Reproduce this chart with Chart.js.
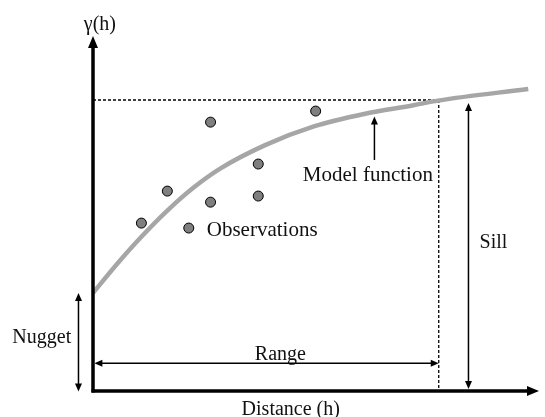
<!DOCTYPE html>
<html>
<head>
<meta charset="utf-8">
<script src="https://cdn.jsdelivr.net/npm/chart.js@4/dist/chart.umd.min.js"></script>
<style>
    html, body { margin: 0; padding: 0; background: #fff; }
    #wrap { width: 545px; height: 417px; }
</style>
</head>
<body>
<div id="wrap"><canvas id="variogramChart"></canvas></div>
<script>
// distance h (range = 100) and semivariance gamma (sill = 1)
var modelH = [0, 7.2, 14, 21.5, 29.2, 36.9, 49.8, 64.1, 78.4, 92.7, 99.8, 125.9];
var modelGamma = [0.337, 0.44, 0.53, 0.62, 0.7, 0.765, 0.845, 0.91, 0.952, 0.982, 0.998, 1.038];

var obsH = [14, 21.5, 27.7, 34, 34, 47.8, 47.8, 64.4];
var obsGamma = [0.577, 0.687, 0.56, 0.649, 0.924, 0.67, 0.78, 0.962];

var nugget = 0.337;
var sill = 1.0;
var range = 100;
var hMax = 129;
var gammaMax = 1.22;

var labelFont = '20px "Liberation Serif", "Times New Roman", serif';
var noteFont = '21px "Liberation Serif", "Times New Roman", serif';

function toPoints(xs, ys) {
    return xs.map(function (x, i) { return { x: x, y: ys[i] }; });
}

function arrowHead(ctx, x, y, dir, len, half) {
    // dir: where the tip points
    ctx.beginPath();
    ctx.moveTo(x, y);
    if (dir === 'up') { ctx.lineTo(x - half, y + len); ctx.lineTo(x + half, y + len); }
    if (dir === 'down') { ctx.lineTo(x - half, y - len); ctx.lineTo(x + half, y - len); }
    if (dir === 'left') { ctx.lineTo(x + len, y - half); ctx.lineTo(x + len, y + half); }
    if (dir === 'right') { ctx.lineTo(x - len, y - half); ctx.lineTo(x - len, y + half); }
    ctx.closePath();
    ctx.fill();
}

function line(ctx, x1, y1, x2, y2) {
    ctx.beginPath();
    ctx.moveTo(x1, y1);
    ctx.lineTo(x2, y2);
    ctx.stroke();
}

var guides = {
    id: 'guides',
    beforeDatasetsDraw: function (chart) {
        var ctx = chart.ctx, x = chart.scales.x, y = chart.scales.y;
        ctx.save();
        ctx.strokeStyle = '#000';
        ctx.lineWidth = 1.3;
        ctx.setLineDash([3, 2]);
        line(ctx, x.getPixelForValue(0), y.getPixelForValue(sill), x.getPixelForValue(range), y.getPixelForValue(sill));
        line(ctx, x.getPixelForValue(range), y.getPixelForValue(sill), x.getPixelForValue(range), y.getPixelForValue(0));
        ctx.restore();
    },
    afterDraw: function (chart) {
        var ctx = chart.ctx, x = chart.scales.x, y = chart.scales.y;
        var area = chart.chartArea;
        ctx.save();
        ctx.fillStyle = '#000';
        ctx.strokeStyle = '#000';

        // axes
        var x0 = x.getPixelForValue(0), y0 = y.getPixelForValue(0);
        ctx.lineWidth = 3.5;
        line(ctx, x0, y0 + 1.5, x0, area.top + 10);
        line(ctx, x0 - 1.5, y0, area.right - 10, y0);
        arrowHead(ctx, x0, area.top, 'up', 12, 5);
        arrowHead(ctx, area.right, y0, 'right', 12, 5);

        ctx.lineWidth = 1.5;
        // model function pointer
        var mx = x.getPixelForValue(81.4);
        line(ctx, mx, y.getPixelForValue(0.794), mx, y.getPixelForValue(0.943) + 6);
        arrowHead(ctx, mx, y.getPixelForValue(0.943), 'up', 8, 3.5);

        // sill
        var sx = x.getPixelForValue(108.6);
        var sTop = y.getPixelForValue(0.99), sBot = y.getPixelForValue(0.007);
        line(ctx, sx, sTop + 6, sx, sBot - 6);
        arrowHead(ctx, sx, sTop, 'up', 8, 3.5);
        arrowHead(ctx, sx, sBot, 'down', 8, 3.5);

        // nugget
        var nx = x.getPixelForValue(-4.2);
        var nTop = y.getPixelForValue(nugget), nBot = y.getPixelForValue(-0.002);
        line(ctx, nx, nTop + 6, nx, nBot - 6);
        arrowHead(ctx, nx, nTop, 'up', 8, 3.5);
        arrowHead(ctx, nx, nBot, 'down', 8, 3.5);

        // range
        var ry = y.getPixelForValue(0.095);
        var rL = x.getPixelForValue(0.4), rR = x.getPixelForValue(range);
        line(ctx, rL + 6, ry, rR - 6, ry);
        arrowHead(ctx, rL, ry, 'left', 8, 3.5);
        arrowHead(ctx, rR, ry, 'right', 8, 3.5);

        // labels
        ctx.textBaseline = 'alphabetic';
        ctx.fillStyle = '#111';
        ctx.font = noteFont;
        ctx.textAlign = 'center';
        ctx.fillText('Model function', x.getPixelForValue(79.5), y.getPixelForValue(0.722));
        ctx.textAlign = 'left';
        ctx.fillText('Observations', x.getPixelForValue(32.9), y.getPixelForValue(0.533));

        ctx.font = labelFont;
        ctx.textAlign = 'center';
        ctx.fillText('\u03B3(h)', x.getPixelForValue(2), y.getPixelForValue(1.242));
        ctx.fillText('Range', x.getPixelForValue(54.2), y.getPixelForValue(0.107));
        ctx.fillText('Distance (h)', x.getPixelForValue(57.2), y.getPixelForValue(-0.082));
        ctx.textAlign = 'left';
        ctx.fillText('Sill', x.getPixelForValue(111.8), y.getPixelForValue(0.491));
        ctx.textAlign = 'right';
        ctx.fillText('Nugget', x.getPixelForValue(-6.3), y.getPixelForValue(0.165));
        ctx.restore();
    }
};

var ctxVariogram = document.getElementById('variogramChart').getContext('2d');
var variogramChart = new Chart(ctxVariogram, {
    type: 'scatter',
    plugins: [guides],
    data: {
        datasets: [{
            label: 'Model function',
            data: toPoints(modelH, modelGamma),
            showLine: true,
            borderColor: '#a6a6a6',
            borderWidth: 4.5,
            pointRadius: 0,
            cubicInterpolationMode: 'monotone',
            clip: false
        }, {
            label: 'Observations',
            data: toPoints(obsH, obsGamma),
            backgroundColor: '#7f7f7f',
            borderColor: '#000',
            borderWidth: 1,
            pointRadius: 5,
            clip: false
        }]
    },
    options: {
        responsive: true,
        maintainAspectRatio: false,
        animation: false,
        events: [],
        layout: {
            padding: { left: 93, right: 1, top: 36, bottom: 26 }
        },
        plugins: {
            legend: { display: false },
            title: { display: false },
            tooltip: { enabled: false }
        },
        scales: {
            x: { type: 'linear', min: 0, max: hMax, display: false },
            y: { type: 'linear', min: 0, max: gammaMax, display: false }
        }
    }
});
</script>
</body>
</html>
